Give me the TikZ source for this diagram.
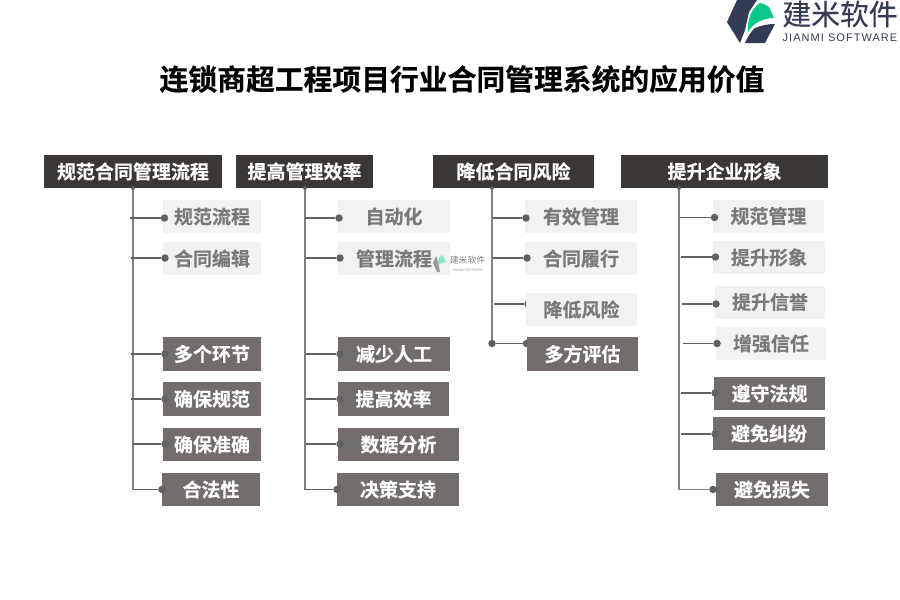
\documentclass[tikz,border=0pt]{standalone}
\usepackage{fontspec}
\setmainfont{Noto Sans CJK SC}[BoldFont={* Bold},BoldFeatures={FakeBold=0.4}]
\newfontfamily\logoenfont{Liberation Sans}[LetterSpace=9.5]
\usepackage{xcolor}
\definecolor{headbg}{HTML}{3B3734}
\definecolor{darkbg}{HTML}{726D6B}
\definecolor{lightbg}{HTML}{F2F2F2}
\definecolor{lighttext}{HTML}{7A7A7A}
\definecolor{linegray}{HTML}{616161}
\definecolor{logonavy}{HTML}{343B55}
\definecolor{logogreen}{HTML}{08C98B}
\tikzset{
headbox/.style={rectangle, fill=headbg, text=white, inner sep=0pt, minimum height=33pt, font=\fontsize{19}{19}\selectfont\bfseries},
itemlight/.style={rectangle, fill=lightbg, text=lighttext, inner sep=0pt, minimum height=33pt, font=\fontsize{19}{19}\selectfont\bfseries},
itemdark/.style={rectangle, fill=darkbg, text=white, inner sep=0pt, minimum height=33pt, font=\fontsize{19}{19}\selectfont\bfseries},
dotvertex/.style={circle, fill=linegray, inner sep=0pt, minimum size=7.5pt},
topdot/.style={circle, fill=linegray, inner sep=0pt, minimum size=4pt},
trunkline/.style={draw=black!50, line width=1.4pt},
branchline/.style={draw=linegray, line width=1.2pt},
}
\begin{document}
\begin{tikzpicture}[x=1pt,y=-1pt]
  \useasboundingbox (0,0) rectangle (900,600);
  \node[text=black, inner sep=0pt, font=\fontsize{28.8}{29}\selectfont\bfseries] at (462,79) (title) {连锁商超工程项目行业合同管理系统的应用价值};

  % logo
  \fill[logonavy] (737,0) -- (757,0) -- (749,12) -- (745,30) -- (740,43) -- (727,22) -- cycle;
  \fill[logonavy] (745,43) .. controls (748,36) and (752,30) .. (755,28) .. controls (762,25) and (769,24) .. (775,24) -- (765,43) -- cycle;
  \fill[logogreen] (748,32) .. controls (747,20) and (751,9) .. (760,3) .. controls (764,4) and (767,5) .. (769,7) -- (774,18) .. controls (763,18) and (753,23) .. (748,32) -- cycle;
  \node[text=logonavy, inner sep=0pt, font=\fontsize{28.8}{29}\selectfont\addfontfeature{FakeBold=0.2}] at (840,14) (logocn) {建米软件};
  \node[text=logonavy, inner sep=0pt, font=\fontsize{11}{11}\selectfont\logoenfont] at (840,38) (logoen) {JIANMI SOFTWARE};

  % heads
  \node[headbox, minimum width=178pt] at (133,171.5) (head1) {规范合同管理流程};
  \node[headbox, minimum width=137pt] at (304.5,171.5) (head2) {提高管理效率};
  \node[headbox, minimum width=161pt] at (513.5,171.5) (head3) {降低合同风险};
  \node[headbox, minimum width=207pt] at (724.5,171.5) (head4) {提升企业形象};

  % first column
  \node[itemlight, minimum width=98pt] at (212,216.5) (ga) {规范流程};
  \node[itemlight, minimum width=98pt] at (212,258.5) (gb) {合同编辑};
  \node[itemdark, minimum width=98pt, minimum height=34pt] at (212,354) (gc) {多个环节};
  \node[itemdark, minimum width=98pt, minimum height=34pt] at (212,399) (gd) {确保规范};
  \node[itemdark, minimum width=98pt] at (212,444.5) (ge) {确保准确};
  \node[itemdark, minimum width=98pt] at (211,489.5) (gf) {合法性};
  \node[topdot] at (133,188) (gtop) {};
  \coordinate (gbot) at (133,489.5);
  \draw[trunkline] (gtop) to (gbot);
  \coordinate (gsa) at (130,218);
  \coordinate (gsb) at (131,258);
  \coordinate (gsc) at (131,354);
  \coordinate (gsd) at (131,399);
  \coordinate (gse) at (132,444);
  \node[dotvertex] at (164.5,218) (gda) {};
  \node[dotvertex] at (165,258) (gdb) {};
  \node[dotvertex] at (165,354) (gdc) {};
  \node[dotvertex] at (165,399) (gdd) {};
  \node[dotvertex] at (165,444) (gde) {};
  \node[dotvertex] at (162,489.5) (gdf) {};
  \draw[branchline] (gsa) to (gda);
  \draw[branchline] (gsb) to (gdb);
  \draw[branchline] (gsc) to (gdc);
  \draw[branchline] (gsd) to (gdd);
  \draw[branchline] (gse) to (gde);
  \draw[branchline] (gbot) to (gdf);

  % second column
  \node[itemlight, minimum width=112pt] at (394,216.5) (ma) {自动化};
  \node[itemlight, minimum width=112pt] at (394,258.5) (mb) {管理流程};
  \node[itemdark, minimum width=112pt, minimum height=34pt] at (394,354) (mc) {减少人工};
  \node[itemdark, minimum width=111pt, minimum height=34pt] at (393.5,399) (md) {提高效率};
  \node[itemdark, minimum width=121pt] at (398.5,444.5) (me) {数据分析};
  \node[itemdark, minimum width=122pt] at (398,489.5) (mf) {决策支持};
  \node[topdot] at (305,188) (mtop) {};
  \coordinate (mbot) at (305,489.5);
  \draw[trunkline] (mtop) to (mbot);
  \coordinate (msa) at (305,218);
  \coordinate (msb) at (306,258);
  \coordinate (msc) at (306,354);
  \coordinate (msd) at (306,399);
  \coordinate (mse) at (306,444);
  \node[dotvertex] at (339,218) (mda) {};
  \node[dotvertex] at (340,258) (mdb) {};
  \node[dotvertex] at (340,354) (mdc) {};
  \node[dotvertex] at (340,399) (mdd) {};
  \node[dotvertex] at (340,444) (mde) {};
  \node[dotvertex] at (337,489.5) (mdf) {};
  \draw[branchline] (msa) to (mda);
  \draw[branchline] (msb) to (mdb);
  \draw[branchline] (msc) to (mdc);
  \draw[branchline] (msd) to (mdd);
  \draw[branchline] (mse) to (mde);
  \draw[branchline] (mbot) to (mdf);

  % third column
  \node[topdot] at (492,188) (rtop) {};
  \node[dotvertex] at (492,343.5) (rbot) {};
  \draw[trunkline] (rtop) to (rbot);
  \coordinate (rsa) at (493,218);
  \coordinate (rsb) at (493,258);
  \coordinate (rsc) at (494,304);
  \node[dotvertex] at (528,304) (rdc) {};
  \node[dotvertex] at (526.5,343.5) (rdd) {};
  \draw[branchline] (rsc) to (rdc);
  \draw[branchline] (rbot) to (rdd);
  \node[itemlight, minimum width=112pt] at (581,216.5) (ra) {有效管理};
  \node[itemlight, minimum width=112pt] at (581,258.5) (rb) {合同履行};
  \node[itemlight, minimum width=111pt] at (581.5,309.5) (rc) {降低风险};
  \node[itemdark, minimum width=111pt, minimum height=34pt] at (582.5,354) (rd) {多方评估};
  \node[dotvertex] at (526,218) (rda) {};
  \node[dotvertex] at (527,258) (rdb) {};
  \draw[branchline] (rsa) to (rda);
  \draw[branchline] (rsb) to (rdb);

  % fourth column
  \node[itemlight, minimum width=111pt] at (768.5,216) (sa) {规范管理};
  \node[itemlight, minimum width=112pt] at (769,257.5) (sb) {提升形象};
  \node[itemlight, minimum width=110pt] at (770,302) (sc) {提升信誉};
  \node[itemlight, minimum width=110pt] at (771,343.5) (sd) {增强信任};
  \node[itemdark, minimum width=111pt] at (769.5,393.5) (se) {遵守法规};
  \node[itemdark, minimum width=112pt] at (769,433.5) (sf) {避免纠纷};
  \node[itemdark, minimum width=112pt] at (772,489.5) (sg) {避免损失};
  \node[topdot] at (679,188) (stop) {};
  \coordinate (sbot) at (679,489.5);
  \draw[trunkline] (stop) to (sbot);
  \coordinate (ssa) at (680,217.5);
  \coordinate (ssb) at (681,257);
  \coordinate (ssc) at (682,304);
  \coordinate (ssd) at (683,343.5);
  \coordinate (sse) at (681,393);
  \coordinate (ssf) at (681,434);
  \node[dotvertex] at (714.5,217.5) (sda) {};
  \node[dotvertex] at (715.5,257) (sdb) {};
  \node[dotvertex] at (716,304) (sdc) {};
  \node[dotvertex] at (717,343.5) (sdd) {};
  \node[dotvertex] at (715,393) (sde) {};
  \node[dotvertex] at (715,434) (sdf) {};
  \node[dotvertex] at (713,489.5) (sdg) {};
  \draw[branchline] (ssa) to (sda);
  \draw[branchline] (ssb) to (sdb);
  \draw[branchline] (ssc) to (sdc);
  \draw[branchline] (ssd) to (sdd);
  \draw[branchline] (sse) to (sde);
  \draw[branchline] (ssf) to (sdf);
  \draw[trunkline] (sbot) to (sdg);

  % watermark
  \fill[black!40] (436,256) -- (433,263) -- (437,272) -- (440,272) -- (438,262) -- cycle;
  \fill[logogreen!45] (438,265) .. controls (437,259) and (440,256) .. (442,255) .. controls (444,257) and (445,259) .. (446,262) .. controls (443,262) and (440,264) .. (438,265) -- cycle;
  \node[text=black!50, inner sep=0pt, font=\fontsize{8.8}{9}\selectfont] at (467.5,260) (markcn) {建米软件};
  \node[text=black!40, inner sep=0pt, font=\fontsize{3.5}{4}\selectfont] at (467.5,270) (marken) {JIANMI SOFTWARE};
\end{tikzpicture}
\end{document}
